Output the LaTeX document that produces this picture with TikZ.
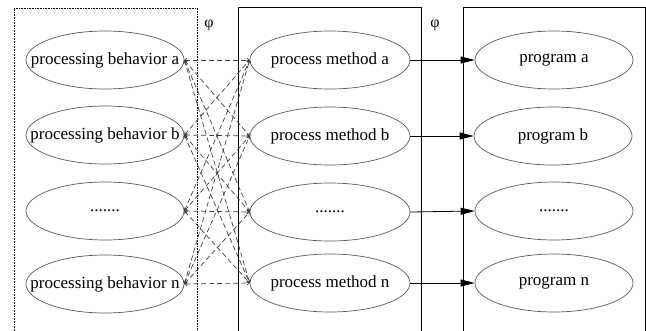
\documentclass[tikz,border=0pt]{standalone}
\usepackage{fontspec}
\setmainfont{Liberation Serif}
\usetikzlibrary{shapes.geometric,arrows.meta}
\newcommand{\zw}[1]{\makebox[0pt]{#1}}
\tikzset{
  oval/.style={ellipse, draw=black!65, line width=0.7pt, minimum width=158pt, minimum height=58pt, inner sep=0pt, font=\fontsize{17}{20}\selectfont},
  dashlink/.style={draw=black!75, line width=0.7pt, dash pattern=on 5pt off 3pt, {To[length=3pt,width=4pt,open]}-{To[length=3pt,width=4pt,open]}},
  solidlink/.style={draw=black, line width=0.8pt, -{Triangle[length=14pt,width=7pt]}},
  frame/.style={draw=black, line width=0.7pt},
  dotframe/.style={draw=black, line width=0.6pt, densely dotted},
  philabel/.style={font=\fontsize{16}{18}\selectfont, inner sep=0pt}
}
\begin{document}
\begin{tikzpicture}[x=1pt,y=-1pt]
\useasboundingbox (0,0) rectangle (646,330);
% frames
\draw[dotframe] (14,331) -- (14,8) -- (197,8) -- (197,331);
\draw[frame] (238,331) -- (238,7) -- (421,7) -- (421,331);
\draw[frame] (463,331) -- (463,7) -- (645,7) -- (645,331);
% labels
\node[philabel] (phi1) at (209,25) {φ};
\node[philabel] (phi2) at (435,25) {φ};
% left ovals
\node[oval] (l1) at (105,60) {\zw{processing behavior a}};
\node[oval] (l2) at (105,135) {\zw{processing behavior b}};
\node[oval] (l3) at (105,211) {\zw{.......}};
\node[oval] (l4) at (105,284) {\zw{processing behavior n}};
% middle ovals
\node[oval, minimum width=160pt] (m1) at (330,60) {\zw{process method a}};
\node[oval, minimum width=160pt] (m2) at (330,136) {\zw{process method b}};
\node[oval, minimum width=160pt] (m3) at (330,212) {\zw{.......}};
\node[oval, minimum width=160pt] (m4) at (330,283) {\zw{process method n}};
% right ovals
\node[oval] (r1) at (554,60) {\zw{program a}};
\node[oval] (r2) at (553,136) {\zw{program b}};
\node[oval] (r3) at (554,211) {\zw{.......}};
\node[oval] (r4) at (554,283) {\zw{program n}};
% dashed many-to-many links
\foreach \i in {1,2,3,4}{
  \foreach \j in {1,2,3,4}{
    \draw[dashlink] (l\i.east) -- (m\j.west);
  }
}
% solid links
\foreach \k in {1,2,3,4}{
  \draw[solidlink] (m\k.east) -- (r\k.west);
}
\end{tikzpicture}
\end{document}
